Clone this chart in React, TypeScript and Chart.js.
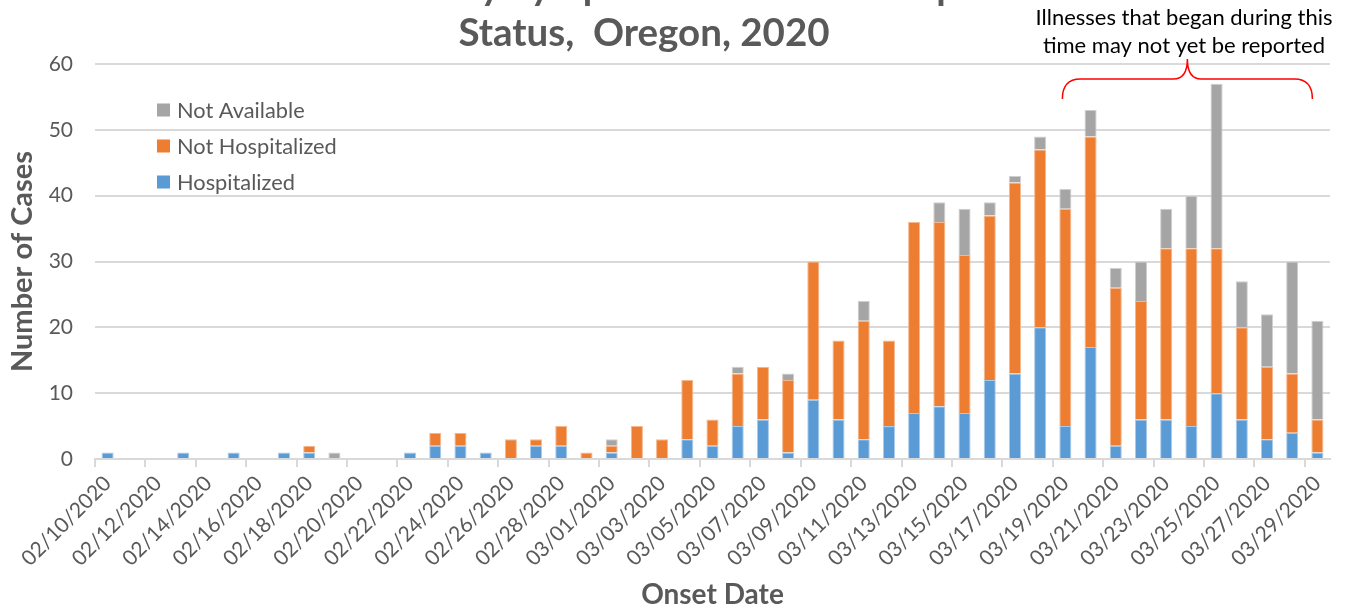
import React, { useEffect, useRef } from "react";
import { Chart, registerables } from "chart.js";

Chart.register(...registerables);

const categories = [
  "02/10/2020", "02/11/2020", "02/12/2020", "02/13/2020", "02/14/2020", "02/15/2020", "02/16/2020",
  "02/17/2020", "02/18/2020", "02/19/2020", "02/20/2020", "02/21/2020", "02/22/2020", "02/23/2020",
  "02/24/2020", "02/25/2020", "02/26/2020", "02/27/2020", "02/28/2020", "02/29/2020", "03/01/2020",
  "03/02/2020", "03/03/2020", "03/04/2020", "03/05/2020", "03/06/2020", "03/07/2020", "03/08/2020",
  "03/09/2020", "03/10/2020", "03/11/2020", "03/12/2020", "03/13/2020", "03/14/2020", "03/15/2020",
  "03/16/2020", "03/17/2020", "03/18/2020", "03/19/2020", "03/20/2020", "03/21/2020", "03/22/2020",
  "03/23/2020", "03/24/2020", "03/25/2020", "03/26/2020", "03/27/2020", "03/28/2020", "03/29/2020",
];

const hospitalized = [
  1, 0, 0, 1, 0, 1, 0, 1, 1, 0, 0, 0, 1, 2, 2, 1, 0, 2, 2, 0, 1, 0, 0, 3, 2,
  5, 6, 1, 9, 6, 3, 5, 7, 8, 7, 12, 13, 20, 5, 17, 2, 6, 6, 5, 10, 6, 3, 4, 1,
];
const notHospitalized = [
  0, 0, 0, 0, 0, 0, 0, 0, 1, 0, 0, 0, 0, 2, 2, 0, 3, 1, 3, 1, 1, 5, 3, 9, 4,
  8, 8, 11, 21, 12, 18, 13, 29, 28, 24, 25, 29, 27, 33, 32, 24, 18, 26, 27, 22, 14, 11, 9, 5,
];
const notAvailable = [
  0, 0, 0, 0, 0, 0, 0, 0, 0, 1, 0, 0, 0, 0, 0, 0, 0, 0, 0, 0, 1, 0, 0, 0, 0,
  1, 0, 1, 0, 0, 3, 0, 0, 3, 7, 2, 1, 2, 3, 4, 3, 6, 6, 8, 25, 7, 8, 17, 15,
];

const yTicks = [0, 10, 20, 30, 40, 50, 60];

const titleLines = ["COVID-19 Cases by Symptom Onset and Hospitalization", "Status,  Oregon, 2020"];
const noteLines = ["Illnesses that began during this", "time may not yet be reported"];
const noteFromIndex = 38;
const noteToIndex = 48;

const FONT = "Lato, 'Open Sans', sans-serif";
const TEXT = "#595959";

const decorPlugin = {
  id: "decor",
  afterDraw(chart: any) {
    const ctx = chart.ctx;
    const x = chart.scales.x;
    const y = chart.scales.y;
    ctx.save();
    // Title
    ctx.fillStyle = TEXT;
    ctx.font = `bold 38.5px ${FONT}`;
    ctx.textAlign = "center";
    ctx.textBaseline = "alphabetic";
    ctx.fillText(titleLines[0], 643, 0);
    ctx.fillText(titleLines[1], 644, 46);

    // Legend (top to bottom in reverse dataset order)
    const ds = chart.data.datasets;
    ctx.font = `21.8px ${FONT}`;
    ctx.textAlign = "left";
    ctx.textBaseline = "middle";
    const order = [2, 1, 0];
    order.forEach((di, k) => {
      const cy = 110 + k * 36;
      ctx.fillStyle = ds[di].backgroundColor;
      ctx.fillRect(157, cy - 6.5, 13, 13);
      ctx.fillStyle = TEXT;
      ctx.fillText(ds[di].label, 177, cy + 1);
    });

    // Note text
    ctx.fillStyle = "#000000";
    ctx.font = `22px ${FONT}`;
    ctx.textAlign = "center";
    ctx.fillText(noteLines[0], 1184, 18);
    ctx.fillText(noteLines[1], 1184, 46);

    // Brace
    const x1 = x.getPixelForValue(noteFromIndex) - 3;
    const x2 = x.getPixelForValue(noteToIndex) - 5;
    const xc = (x1 + x2) / 2;
    const top = y.getPixelForValue(60);
    const tip = top - 5;
    const mid = top + 15;
    const end = top + 35;
    ctx.strokeStyle = "#FF0000";
    ctx.lineWidth = 1.5;
    ctx.beginPath();
    ctx.moveTo(x1, end);
    ctx.quadraticCurveTo(x1, mid, x1 + 18, mid);
    ctx.lineTo(xc - 14, mid);
    ctx.quadraticCurveTo(xc, mid, xc, tip);
    ctx.quadraticCurveTo(xc, mid, xc + 14, mid);
    ctx.lineTo(x2 - 18, mid);
    ctx.quadraticCurveTo(x2, mid, x2, end);
    ctx.stroke();
    ctx.restore();
  },
};

export default function App() {
  const ref = useRef<HTMLCanvasElement | null>(null);
  useEffect(() => {
    if (!ref.current) return;
    const chart = new Chart(ref.current, {
      type: "bar",
      data: {
        labels: categories,
        datasets: [
          {
            label: "Hospitalized",
            data: hospitalized,
            backgroundColor: "#5B9BD5",
            borderColor: "#A9CBEA",
            borderWidth: 1,
          },
          {
            label: "Not Hospitalized",
            data: notHospitalized,
            backgroundColor: "#ED7D31",
            borderColor: "#F5B78E",
            borderWidth: 1,
          },
          {
            label: "Not Available",
            data: notAvailable,
            backgroundColor: "#A5A5A5",
            borderColor: "#CFCFCF",
            borderWidth: 1,
          },
        ],
      },
      options: {
        animation: false,
        responsive: false,
        maintainAspectRatio: false,
        devicePixelRatio: 1,
        layout: { padding: { top: 64, right: 22, left: 0, bottom: 0 } },
        plugins: {
          legend: { display: false },
          title: { display: false },
          tooltip: { enabled: false },
        },
        datasets: {
          bar: { barPercentage: 0.48, categoryPercentage: 1 },
        },
        scales: {
          x: {
            stacked: true,
            offset: true,
            afterFit: (s: any) => {
              s.height = 153;
            },
            grid: {
              display: true,
              drawOnChartArea: false,
              drawTicks: true,
              tickLength: 8,
              offset: true,
              lineWidth: 2,
              color: (c: any) => (c.index % 2 === 0 ? "#d9d9d9" : "rgba(0,0,0,0)"),
            },
            border: { display: true, color: "#d9d9d9", width: 2 },
            ticks: {
              autoSkip: false,
              maxRotation: 45,
              minRotation: 45,
              padding: 4,
              color: TEXT,
              font: { family: FONT, size: 21 },
              callback: (_v: any, i: number) => (i % 2 === 0 ? categories[i] : ""),
            },
            title: {
              display: true,
              text: "Onset Date",
              color: TEXT,
              font: { family: FONT, size: 28, weight: "bold" },
              padding: { top: 0, bottom: 0 },
            },
          },
          y: {
            stacked: true,
            min: 0,
            max: 60,
            afterFit: (s: any) => {
              s.width = 95;
            },
            afterBuildTicks: (s: any) => {
              s.ticks = yTicks.map((v) => ({ value: v }));
            },
            grid: { color: "#d9d9d9", lineWidth: 2, drawTicks: false },
            border: { display: false },
            ticks: {
              padding: 22,
              color: TEXT,
              font: { family: FONT, size: 21 },
            },
            title: {
              display: true,
              text: "Number of Cases",
              color: TEXT,
              font: { family: FONT, size: 29, weight: "bold" },
              padding: { top: 5, bottom: 0 },
            },
          },
        },
      },
      plugins: [decorPlugin],
    });
    return () => chart.destroy();
  }, []);
  return (
    <div style={{ position: "absolute", left: 0, top: 0, width: 1352, height: 612 }}>
      <canvas ref={ref} width={1352} height={612} style={{ display: "block", width: 1352, height: 612 }} />
    </div>
  );
}
